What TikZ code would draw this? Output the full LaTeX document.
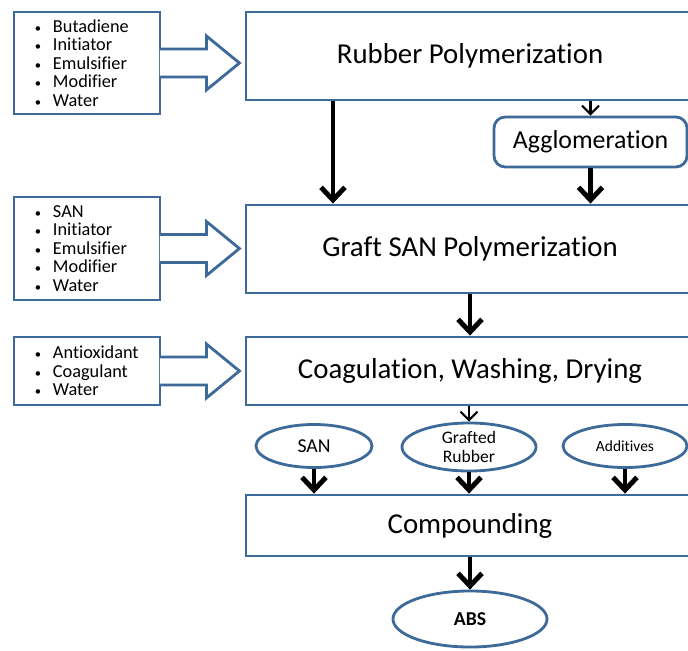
\documentclass[tikz,border=0pt]{standalone}
\usepackage{fontspec}
\setmainfont[Ligatures=NoCommon]{Carlito}
\usetikzlibrary{arrows.meta,calc,shapes.geometric}
\definecolor{frameblue}{HTML}{3E6A9A}
\newcommand\itm[1]{\makebox[0.525cm][l]{\hspace{2pt}\small\textbullet}#1}

\begin{document}
\begin{tikzpicture}[x=0.025cm,y=-0.025cm,
  frame/.style={draw=frameblue,line width=2pt},
  stage/.style={frame,rectangle,minimum width=11.2cm,font=\fontsize{20.5}{24}\selectfont},
  feed/.style={frame,rectangle,minimum width=3.65cm,text width=2.75cm,inner xsep=0.45cm,align=left,font=\fontsize{13}{13.1}\selectfont},
  stream/.style={frame,ellipse,inner sep=0pt,align=center},
  bigarrow/.style={line width=3.5pt,-{Straight Barb[length=9pt,width=17pt]}},
  smallarrow/.style={line width=1.5pt,-{Straight Barb[length=6pt,width=12pt]}}]
  \useasboundingbox (0,0) rectangle (688,650);
  \node[stage,minimum height=2.2cm] (rubber) at (470,56) {Rubber Polymerization};
  \node[stage,minimum height=2.2cm] (graft) at (470,249) {Graft SAN Polymerization};
  \node[stage,minimum height=1.7cm] (coag) at (470,371) {Coagulation, Washing, Drying};
  \node[stage,minimum height=1.525cm] (comp) at (470,525.5) {Compounding};
  \node[frame,rounded corners=8pt,minimum width=4.825cm,minimum height=1.25cm,font=\fontsize{18.4}{22}\selectfont] (agglo) at (590.5,142) {Agglomeration};
  \node[feed,minimum height=2.55cm] (in1) at (87,63) {\itm{Butadiene}\\\itm{Initiator}\\\itm{Emulsifier}\\\itm{Modifier}\\\itm{Water}};
  \node[feed,minimum height=2.575cm] (in2) at (87,248.5) {\itm{SAN}\\\itm{Initiator}\\\itm{Emulsifier}\\\itm{Modifier}\\\itm{Water}};
  \node[feed,minimum height=1.7cm] (in3) at (87,371) {\itm{Antioxidant}\\\itm{Coagulant}\\\itm{Water}};
  \node[stream,minimum width=2.9cm,minimum height=1.075cm,font=\fontsize{14}{16}\selectfont] (san) at (314,446) {SAN};
  \node[stream,minimum width=3.35cm,minimum height=1.2cm,font=\fontsize{12.5}{13}\selectfont] (grafted) at (469,447) {Grafted\\Rubber};
  \node[stream,minimum width=3.1cm,minimum height=1.075cm,font=\fontsize{11}{13}\selectfont] (additives) at (625,446) {Additives};
  \node[stream,minimum width=3.85cm,minimum height=1.4cm,font=\bfseries\fontsize{14}{16}\selectfont] (abs) at (470,619) {ABS};
  \foreach \src in {in1,in2,in3}
    \draw[frame,fill=white] ($(\src.east)+(-1.5,-14)$) -- ++(46.5,0) -- ++(0,-13) -- ++(33,27) -- ++(-33,27) -- ++(0,-13) -- ++(-46.5,0);
  \draw[bigarrow] ([xshift=-3.425cm]rubber.south) -- ([xshift=-3.425cm]graft.north);
  \draw[smallarrow] (rubber.south -| agglo.north) -- (agglo.north);
  \draw[bigarrow] (agglo.south) -- (graft.north -| agglo.south);
  \draw[bigarrow] (graft.south) -- (coag.north);
  \draw[smallarrow] (coag.south -| grafted.north) -- (grafted.north);
  \foreach \s in {san,grafted,additives}
    \draw[bigarrow] (\s.south) -- (comp.north -| \s.south);
  \draw[bigarrow] (comp.south) -- (abs.north);
\end{tikzpicture}
\end{document}
